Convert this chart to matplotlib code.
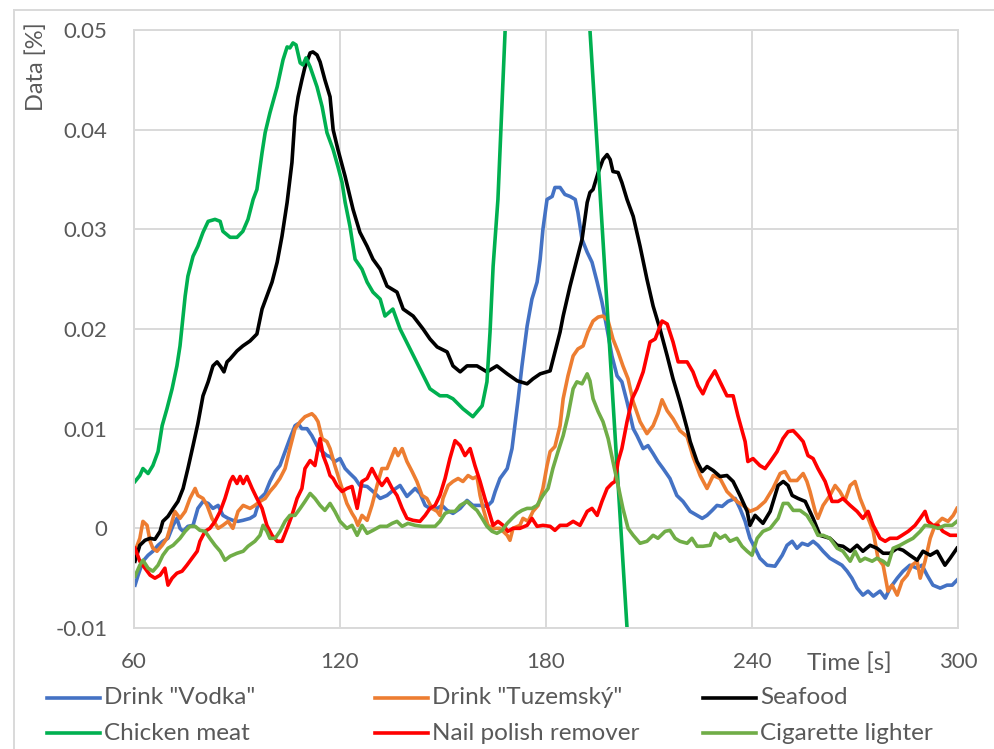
import matplotlib.pyplot as plt
from matplotlib.lines import Line2D

plt.rcParams['font.family'] = ['Lato', 'DejaVu Sans']

# values: time [s] and data [%]
vodka_t = [60.3, 61.2, 62.6, 64.1, 65.5, 67.0, 68.4, 69.9, 71.4, 72.5, 73.4, 74.3, 75.7, 77.2, 78.6, 80.1,
           81.6, 83.0, 84.5, 85.9, 87.4, 88.8, 90.3, 91.7, 93.8, 95.2, 96.7, 98.2, 99.6, 101.1, 102.5,
           104.0, 105.4, 106.9, 107.8, 108.9, 110.4, 111.8, 113.3, 114.8, 116.2, 117.1, 118.5, 120.0,
           121.5, 122.9, 124.4, 125.8, 127.9, 129.6, 131.7, 133.7, 135.4, 137.5, 139.5, 141.9, 143.3,
           144.8, 146.2, 148.3, 149.7, 151.2, 152.9, 155.0, 157.0, 158.7, 160.8, 162.8, 164.3, 165.2,
           166.6, 168.7, 170.1, 171.9, 173.0, 174.5, 175.9, 177.4, 178.3, 179.1, 180.3, 181.8, 182.6,
           184.1, 185.5, 187.0, 188.5, 189.3, 190.5, 192.0, 193.4, 194.9, 196.3, 197.8, 199.2, 200.7,
           202.1, 203.6, 205.4, 206.5, 208.3, 209.7, 211.2, 212.6, 214.1, 216.1, 218.1, 219.9, 222.0,
           224.0, 225.5, 226.9, 228.4, 229.8, 231.3, 233.0, 235.1, 236.5, 238.0, 239.4, 240.9, 242.3,
           244.4, 246.7, 248.8, 250.2, 251.7, 253.1, 254.6, 256.3, 257.8, 259.2, 260.7, 262.7, 264.2,
           266.2, 267.7, 269.1, 270.6, 272.3, 273.8, 275.3, 277.3, 278.8, 280.2, 282.3, 284.0, 286.0,
           288.1, 289.5, 291.0, 292.7, 294.8, 296.8, 298.3, 299.7]
vodka = [-0.0057, -0.0047, -0.0033, -0.0027, -0.0023, -0.0017, -0.0013, -0.0010, 0.0003, 0.0010, 0.0000,
         -0.0003, 0.0002, 0.0003, 0.0020, 0.0027, 0.0025, 0.0020, 0.0023, 0.0013, 0.0010, 0.0008, 0.0007,
         0.0008, 0.0010, 0.0013, 0.0030, 0.0035, 0.0047, 0.0057, 0.0063, 0.0077, 0.0090, 0.0103, 0.0105,
         0.0100, 0.0100, 0.0093, 0.0083, 0.0077, 0.0073, 0.0072, 0.0067, 0.0070, 0.0060, 0.0055, 0.0050,
         0.0043, 0.0042, 0.0037, 0.0030, 0.0033, 0.0038, 0.0043, 0.0032, 0.0040, 0.0035, 0.0023, 0.0020,
         0.0020, 0.0023, 0.0018, 0.0015, 0.0020, 0.0028, 0.0023, 0.0023, 0.0022, 0.0027, 0.0037, 0.0050,
         0.0060, 0.0080, 0.0130, 0.0163, 0.0203, 0.0230, 0.0247, 0.0270, 0.0300, 0.0330, 0.0333, 0.0342,
         0.0342, 0.0335, 0.0333, 0.0330, 0.0317, 0.0290, 0.0277, 0.0267, 0.0247, 0.0227, 0.0200, 0.0173,
         0.0153, 0.0147, 0.0127, 0.0100, 0.0093, 0.0080, 0.0083, 0.0075, 0.0067, 0.0060, 0.0050, 0.0033,
         0.0027, 0.0017, 0.0013, 0.0010, 0.0013, 0.0018, 0.0023, 0.0022, 0.0027, 0.0030, 0.0020, 0.0007,
         -0.0010, -0.0020, -0.0030, -0.0037, -0.0038, -0.0027, -0.0017, -0.0013, -0.0020, -0.0015, -0.0017,
         -0.0013, -0.0017, -0.0023, -0.0030, -0.0033, -0.0037, -0.0043, -0.0050, -0.0060, -0.0067, -0.0063,
         -0.0068, -0.0063, -0.0070, -0.0060, -0.0050, -0.0043, -0.0037, -0.0040, -0.0037, -0.0047, -0.0057,
         -0.0060, -0.0057, -0.0057, -0.0052]

tuzem_t = [60.3, 61.7, 62.6, 63.8, 64.7, 65.5, 66.7, 68.2, 69.6, 71.1, 71.9, 73.4, 74.9, 76.3, 77.8, 78.6,
           80.1, 81.3, 82.7, 84.5, 85.9, 87.4, 88.8, 90.3, 91.8, 93.8, 95.2, 96.7, 98.2, 99.6, 101.1,
           102.5, 104.0, 105.4, 106.9, 108.4, 109.8, 111.8, 112.7, 113.6, 114.8, 116.2, 117.1, 118.5,
           119.4, 120.6, 122.0, 123.5, 124.4, 125.2, 126.4, 127.9, 129.3, 130.8, 132.2, 133.7, 135.2,
           136.0, 136.9, 138.1, 139.5, 141.0, 142.4, 143.9, 145.3, 146.8, 148.3, 149.1, 150.0, 151.5,
           152.9, 154.4, 155.8, 157.3, 158.7, 159.9, 160.8, 161.7, 163.1, 164.6, 166.6, 168.7, 169.5,
           170.4, 172.4, 173.3, 174.8, 176.2, 177.7, 179.1, 180.3, 181.2, 182.6, 184.1, 185.0, 186.4,
           187.9, 189.3, 190.8, 192.2, 193.7, 195.2, 196.6, 198.1, 199.5, 201.0, 202.4, 203.9, 205.4,
           207.4, 209.4, 211.2, 212.6, 213.8, 215.3, 217.0, 219.0, 221.1, 222.8, 224.9, 226.9, 228.7,
           230.7, 232.7, 235.6, 237.4, 239.4, 241.5, 243.8, 246.1, 248.2, 249.6, 251.1, 253.1, 254.9,
           256.0, 256.9, 258.4, 259.2, 260.7, 262.7, 264.2, 265.6, 267.1, 268.6, 270.0, 271.5, 273.5,
           275.3, 276.7, 278.2, 279.6, 280.8, 282.3, 283.7, 285.2, 286.6, 288.1, 289.0, 290.4, 291.9,
           293.3, 295.4, 297.1, 298.6, 299.7]
tuzem = [-0.0023, -0.0010, 0.0007, 0.0003, -0.0013, -0.0020, -0.0023, -0.0017, -0.0010, 0.0007, 0.0017,
         0.0010, 0.0017, 0.0030, 0.0040, 0.0033, 0.0030, 0.0023, 0.0010, 0.0000, 0.0003, 0.0007, 0.0000,
         0.0017, 0.0023, 0.0020, 0.0023, 0.0027, 0.0030, 0.0037, 0.0043, 0.0050, 0.0060, 0.0080, 0.0100,
         0.0107, 0.0112, 0.0115, 0.0112, 0.0107, 0.0090, 0.0087, 0.0080, 0.0063, 0.0053, 0.0040, 0.0025,
         0.0015, 0.0010, 0.0003, 0.0013, 0.0008, 0.0023, 0.0043, 0.0060, 0.0060, 0.0073, 0.0080, 0.0073,
         0.0080, 0.0067, 0.0057, 0.0047, 0.0033, 0.0030, 0.0020, 0.0017, 0.0013, 0.0030, 0.0043, 0.0047,
         0.0050, 0.0047, 0.0053, 0.0050, 0.0052, 0.0033, 0.0020, 0.0003, 0.0000, 0.0000, -0.0007, -0.0012,
         0.0000, 0.0003, 0.0010, 0.0007, 0.0017, 0.0023, 0.0040, 0.0063, 0.0077, 0.0082, 0.0103, 0.0130,
         0.0153, 0.0173, 0.0180, 0.0183, 0.0197, 0.0208, 0.0212, 0.0213, 0.0208, 0.0190, 0.0177, 0.0163,
         0.0150, 0.0127, 0.0107, 0.0095, 0.0103, 0.0115, 0.0129, 0.0118, 0.0110, 0.0098, 0.0092, 0.0072,
         0.0053, 0.0040, 0.0053, 0.0050, 0.0037, 0.0027, 0.0023, 0.0017, 0.0020, 0.0027, 0.0040, 0.0055,
         0.0057, 0.0048, 0.0048, 0.0055, 0.0047, 0.0037, 0.0017, 0.0010, 0.0023, 0.0033, 0.0043, 0.0037,
         0.0028, 0.0043, 0.0047, 0.0030, 0.0013, -0.0003, -0.0030, -0.0037, -0.0063, -0.0057, -0.0067,
         -0.0053, -0.0047, -0.0037, -0.0033, -0.0050, -0.0033, -0.0010, 0.0003, 0.0010, 0.0007, 0.0013,
         0.0020]

seafood_t = [60.3, 61.7, 63.2, 64.7, 66.1, 67.6, 68.4, 69.9, 71.4, 72.8, 74.3, 75.7, 77.2, 78.6, 80.1,
             81.6, 83.0, 84.2, 85.3, 86.2, 87.1, 88.0, 90.0, 91.7, 93.8, 95.8, 97.3, 98.7, 100.2, 101.7,
             103.1, 104.6, 106.0, 106.9, 107.8, 108.9, 109.8, 111.3, 112.1, 113.3, 114.2, 115.6, 117.1,
             118.0, 119.4, 121.5, 122.9, 123.8, 125.8, 127.9, 129.6, 131.7, 133.7, 136.6, 138.4, 141.3,
             144.2, 146.2, 148.3, 151.2, 152.9, 155.0, 157.0, 159.9, 162.8, 165.7, 168.7, 171.6, 174.5,
             176.2, 178.3, 181.2, 182.6, 184.1, 185.0, 187.0, 189.0, 190.5, 192.0, 192.8, 193.7, 195.2,
             196.6, 197.8, 198.7, 199.5, 201.0, 202.1, 203.6, 205.4, 207.4, 209.4, 211.2, 213.2, 215.3,
             217.0, 219.0, 221.1, 222.0, 224.0, 225.5, 226.9, 228.7, 230.7, 232.7, 234.5, 236.5, 238.6,
             239.4, 240.9, 243.2, 245.3, 247.6, 249.1, 250.5, 251.7, 253.4, 255.5, 257.8, 259.8, 262.7,
             264.8, 266.5, 268.6, 270.6, 272.3, 274.4, 276.4, 278.2, 280.2, 282.3, 284.0, 286.0, 288.1,
             289.8, 291.9, 293.9, 296.2, 297.7, 299.7]
seafood = [-0.0033, -0.0017, -0.0012, -0.0010, -0.0011, -0.0003, 0.0007, 0.0012, 0.0020, 0.0027, 0.0040,
           0.0060, 0.0083, 0.0105, 0.0133, 0.0147, 0.0163, 0.0167, 0.0162, 0.0157, 0.0167, 0.0170, 0.0178,
           0.0183, 0.0188, 0.0195, 0.0220, 0.0233, 0.0247, 0.0267, 0.0293, 0.0327, 0.0367, 0.0413, 0.0433,
           0.0450, 0.0463, 0.0477, 0.0478, 0.0475, 0.0468, 0.0450, 0.0433, 0.0400, 0.0380, 0.0353, 0.0333,
           0.0320, 0.0297, 0.0283, 0.0270, 0.0260, 0.0243, 0.0237, 0.0220, 0.0213, 0.0200, 0.0190, 0.0182,
           0.0177, 0.0163, 0.0157, 0.0163, 0.0163, 0.0157, 0.0163, 0.0155, 0.0148, 0.0145, 0.0150, 0.0155,
           0.0158, 0.0177, 0.0197, 0.0213, 0.0243, 0.0270, 0.0290, 0.0327, 0.0337, 0.0340, 0.0357, 0.0370,
           0.0375, 0.0370, 0.0358, 0.0357, 0.0347, 0.0330, 0.0313, 0.0283, 0.0250, 0.0223, 0.0200, 0.0173,
           0.0150, 0.0127, 0.0100, 0.0087, 0.0067, 0.0057, 0.0062, 0.0058, 0.0052, 0.0053, 0.0047, 0.0033,
           0.0017, 0.0003, 0.0013, 0.0005, 0.0017, 0.0043, 0.0047, 0.0043, 0.0033, 0.0030, 0.0027, 0.0010,
           -0.0007, -0.0010, -0.0017, -0.0018, -0.0023, -0.0017, -0.0023, -0.0017, -0.0020, -0.0025, -0.0025,
           -0.0020, -0.0022, -0.0027, -0.0032, -0.0023, -0.0027, -0.0023, -0.0037, -0.0030, -0.0020]

chicken_t = [60.3, 61.7, 62.6, 64.1, 65.5, 67.0, 68.2, 69.6, 71.1, 72.5, 73.4, 74.9, 75.7, 77.2, 78.6,
             80.1, 81.6, 83.6, 85.1, 85.9, 88.0, 90.0, 91.7, 93.2, 94.7, 95.8, 97.3, 98.2, 99.6, 101.7,
             103.4, 104.6, 105.4, 106.3, 107.2, 108.4, 109.2, 110.1, 111.3, 113.3, 114.8, 116.2, 118.0,
             119.4, 120.6, 121.5, 122.9, 124.4, 126.4, 127.9, 129.6, 131.7, 133.1, 135.4, 137.5, 140.4,
             143.3, 146.2, 149.1, 151.2, 152.9, 155.8, 158.7, 161.4, 162.8, 163.7, 164.6, 166.0, 168.1,
             179.3, 192.8, 203.6, 208.0]
chicken = [0.0047, 0.0053, 0.0060, 0.0055, 0.0063, 0.0077, 0.0103, 0.0120, 0.0140, 0.0163, 0.0183, 0.0233,
           0.0253, 0.0273, 0.0283, 0.0297, 0.0308, 0.0310, 0.0308, 0.0298, 0.0292, 0.0292, 0.0298, 0.0310,
           0.0330, 0.0340, 0.0377, 0.0397, 0.0417, 0.0443, 0.0470, 0.0483, 0.0482, 0.0487, 0.0485, 0.0467,
           0.0465, 0.0472, 0.0463, 0.0443, 0.0423, 0.0397, 0.0380, 0.0363, 0.0347, 0.0327, 0.0303, 0.0270,
           0.0260, 0.0247, 0.0237, 0.0230, 0.0213, 0.0220, 0.0200, 0.0180, 0.0160, 0.0140, 0.0133, 0.0133,
           0.0130, 0.0120, 0.0112, 0.0123, 0.0147, 0.0197, 0.0263, 0.0330, 0.0500, 0.1260, 0.0500, -0.0100,
           -0.0350]

nail_t = [60.3, 61.7, 63.2, 64.7, 66.1, 67.6, 69.0, 69.9, 71.1, 72.5, 74.0, 75.4, 76.9, 78.4, 79.2, 80.7,
          82.1, 83.6, 85.1, 86.5, 88.0, 88.8, 90.0, 90.9, 91.8, 92.9, 94.4, 95.8, 97.3, 98.7, 100.2, 101.7,
          103.1, 104.6, 106.0, 107.5, 108.9, 109.8, 111.3, 112.7, 113.6, 114.2, 115.1, 116.2, 117.1, 118.0,
          119.1, 120.6, 122.0, 123.5, 125.0, 126.4, 127.9, 129.3, 130.8, 132.2, 133.7, 135.2, 136.6, 138.1,
          139.5, 141.3, 143.3, 144.8, 146.2, 147.7, 149.1, 150.6, 152.0, 153.5, 155.0, 156.4, 157.9, 159.3,
          160.8, 162.2, 163.7, 164.6, 166.0, 167.5, 168.9, 170.4, 172.4, 174.5, 175.9, 177.4, 179.1, 181.2,
          182.6, 184.1, 186.1, 187.9, 189.9, 192.0, 193.4, 194.9, 196.3, 197.8, 199.2, 200.1, 201.0, 202.1,
          203.6, 205.1, 206.5, 208.3, 210.3, 211.8, 213.8, 215.3, 217.0, 218.5, 221.1, 222.8, 224.3, 225.7,
          227.2, 229.2, 230.7, 232.7, 234.5, 235.9, 238.0, 238.8, 240.3, 242.3, 243.8, 245.3, 247.3, 249.0,
          250.5, 252.0, 253.4, 254.9, 256.3, 257.8, 259.2, 261.3, 263.3, 265.1, 266.5, 268.6, 270.6, 272.3,
          273.8, 275.3, 277.3, 278.8, 280.2, 282.3, 283.7, 285.5, 287.5, 289.0, 290.4, 291.3, 292.7, 294.2,
          295.6, 297.7, 299.7]
nail = [-0.0020, -0.0033, -0.0040, -0.0047, -0.0050, -0.0047, -0.0040, -0.0057, -0.0050, -0.0045, -0.0043,
        -0.0037, -0.0030, -0.0023, -0.0013, -0.0003, 0.0000, 0.0007, 0.0017, 0.0030, 0.0047, 0.0052, 0.0045,
        0.0052, 0.0045, 0.0052, 0.0040, 0.0030, 0.0020, 0.0003, -0.0007, -0.0013, -0.0013, 0.0000, 0.0013,
        0.0030, 0.0040, 0.0060, 0.0068, 0.0063, 0.0080, 0.0090, 0.0073, 0.0063, 0.0053, 0.0050, 0.0043,
        0.0037, 0.0040, 0.0042, 0.0020, 0.0047, 0.0050, 0.0060, 0.0050, 0.0043, 0.0050, 0.0040, 0.0033,
        0.0020, 0.0010, 0.0008, 0.0007, 0.0013, 0.0020, 0.0023, 0.0033, 0.0050, 0.0070, 0.0088, 0.0083,
        0.0073, 0.0080, 0.0063, 0.0047, 0.0030, 0.0013, 0.0003, 0.0007, 0.0003, -0.0003, 0.0000, 0.0000,
        0.0003, 0.0010, 0.0002, 0.0003, 0.0002, -0.0002, 0.0003, 0.0003, 0.0007, 0.0003, 0.0017, 0.0020,
        0.0013, 0.0027, 0.0040, 0.0045, 0.0047, 0.0067, 0.0080, 0.0107, 0.0130, 0.0140, 0.0157, 0.0187,
        0.0190, 0.0208, 0.0205, 0.0187, 0.0167, 0.0167, 0.0157, 0.0143, 0.0135, 0.0147, 0.0158, 0.0147,
        0.0133, 0.0133, 0.0113, 0.0087, 0.0067, 0.0070, 0.0063, 0.0060, 0.0067, 0.0077, 0.0090, 0.0097,
        0.0098, 0.0093, 0.0087, 0.0073, 0.0070, 0.0060, 0.0047, 0.0027, 0.0027, 0.0030, 0.0023, 0.0017,
        0.0010, 0.0017, 0.0003, -0.0010, -0.0013, -0.0010, -0.0010, -0.0007, -0.0003, 0.0003, 0.0010,
        0.0017, 0.0007, 0.0003, 0.0003, -0.0003, -0.0007, -0.0007]

lighter_t = [60.3, 61.7, 62.6, 64.1, 65.5, 67.0, 68.4, 69.9, 71.4, 73.4, 74.9, 76.3, 77.8, 79.2, 80.7, 82.1,
             83.6, 85.1, 86.5, 88.0, 90.0, 91.8, 93.2, 95.2, 96.7, 97.6, 98.7, 99.6, 101.1, 102.5, 104.0,
             105.4, 106.9, 108.4, 109.8, 111.3, 112.7, 114.2, 115.6, 117.1, 118.5, 120.0, 122.0, 123.5,
             125.0, 126.4, 127.9, 129.6, 131.7, 133.7, 135.2, 136.6, 138.1, 139.8, 141.9, 143.9, 145.6,
             147.7, 149.1, 150.6, 152.0, 153.5, 155.0, 157.0, 158.5, 159.9, 161.4, 162.8, 164.3, 165.7,
             167.2, 168.7, 170.1, 171.6, 173.0, 174.5, 175.9, 177.4, 179.1, 180.6, 182.0, 183.5, 185.0,
             186.4, 187.9, 189.0, 190.5, 192.0, 192.8, 193.7, 195.2, 196.6, 198.1, 199.5, 201.0, 202.4,
             203.9, 205.4, 207.4, 209.4, 211.2, 212.6, 214.7, 216.1, 217.6, 219.0, 221.1, 222.5, 224.0,
             225.7, 227.8, 229.2, 230.7, 232.2, 233.6, 235.6, 237.1, 238.6, 240.0, 241.5, 243.2, 245.3,
             247.6, 249.1, 250.5, 252.0, 254.0, 256.0, 257.8, 259.2, 260.7, 262.7, 264.8, 266.5, 268.6,
             270.0, 271.5, 272.9, 275.0, 276.4, 278.2, 279.6, 281.1, 283.1, 285.2, 286.9, 289.0, 290.4,
             292.5, 294.2, 296.2, 298.3, 299.7]
lighter = [-0.0048, -0.0037, -0.0032, -0.0040, -0.0043, -0.0037, -0.0027, -0.0020, -0.0017, -0.0010, -0.0003,
           0.0002, 0.0002, -0.0002, -0.0003, -0.0010, -0.0017, -0.0023, -0.0032, -0.0028, -0.0025, -0.0023,
           -0.0018, -0.0013, -0.0007, 0.0003, -0.0003, -0.0010, -0.0010, -0.0003, 0.0007, 0.0013, 0.0013,
           0.0020, 0.0027, 0.0035, 0.0030, 0.0023, 0.0018, 0.0025, 0.0017, 0.0007, 0.0000, 0.0003, -0.0007,
           0.0003, -0.0005, -0.0002, 0.0002, 0.0002, 0.0005, 0.0007, 0.0002, 0.0005, 0.0003, 0.0002, 0.0002,
           0.0002, 0.0007, 0.0015, 0.0017, 0.0017, 0.0023, 0.0027, 0.0022, 0.0018, 0.0010, 0.0002, -0.0003,
           -0.0005, -0.0002, 0.0005, 0.0010, 0.0015, 0.0018, 0.0020, 0.0020, 0.0023, 0.0033, 0.0040, 0.0060,
           0.0077, 0.0093, 0.0113, 0.0140, 0.0147, 0.0145, 0.0155, 0.0148, 0.0130, 0.0117, 0.0107, 0.0090,
           0.0067, 0.0043, 0.0020, 0.0000, -0.0007, -0.0015, -0.0013, -0.0007, -0.0010, -0.0003, -0.0002,
           -0.0010, -0.0013, -0.0015, -0.0010, -0.0018, -0.0018, -0.0017, -0.0005, -0.0010, -0.0007, -0.0013,
           -0.0010, -0.0018, -0.0023, -0.0027, -0.0010, -0.0003, 0.0000, 0.0010, 0.0025, 0.0025, 0.0018,
           0.0018, 0.0013, 0.0003, -0.0007, -0.0007, -0.0010, -0.0020, -0.0023, -0.0033, -0.0023, -0.0033,
           -0.0030, -0.0033, -0.0030, -0.0033, -0.0037, -0.0020, -0.0017, -0.0013, -0.0010, -0.0003, 0.0003,
           0.0002, 0.0000, 0.0003, 0.0003, 0.0007]

labels = ['Drink "Vodka"', 'Drink "Tuzemský"', 'Seafood',
          'Chicken meat', 'Nail polish remover', 'Cigarette lighter']
colors = ['#4472C4', '#ED7D31', '#000000', '#00B050', '#FF0000', '#70AD47']
series = [(vodka_t, vodka), (tuzem_t, tuzem), (seafood_t, seafood),
          (chicken_t, chicken), (nail_t, nail), (lighter_t, lighter)]

xticks = [60, 120, 180, 240, 300]
yticks = [-0.01, 0, 0.01, 0.02, 0.03, 0.04, 0.05]
ytick_labels = ['-0.01', '0', '0.01', '0.02', '0.03', '0.04', '0.05']

grey = '#D9D9D9'
txt = '#595959'

fig = plt.figure(figsize=(9.95, 7.49), dpi=100)
W, H = 995, 749
ax = fig.add_axes([134 / W, 1 - 628 / H, (958 - 134) / W, (628 - 30) / H])

for (t, v), c in zip(series, colors):
    ax.plot(t, v, color=c, lw=2.6, solid_joinstyle='round')

ax.set_xlim(60, 300)
ax.set_ylim(-0.01, 0.05)
ax.set_xticks(xticks)
ax.set_yticks(yticks)
ax.set_yticklabels(ytick_labels)
ax.tick_params(length=0, labelsize=16, colors=txt)
ax.tick_params(axis='y', pad=19)
ax.tick_params(axis='x', pad=17)
ax.grid(True, color=grey, lw=1.4)
ax.set_axisbelow(True)
for s in ax.spines.values():
    s.set_color(grey)
    s.set_linewidth(1.4)

fig.text(36 / W, 1 - 67 / H, 'Data [%]', rotation=90, ha='center', va='center',
         fontsize=17, color=txt)
fig.text(849 / W, 1 - 663 / H, 'Time [s]', ha='center', va='center', fontsize=17.5, color=txt)

# outer chart frame (left and top edges visible)
fig.add_artist(Line2D([14 / W, 14 / W], [0, 1 - 10 / H], color=grey, lw=1.4))
fig.add_artist(Line2D([14 / W, 1], [1 - 10 / H, 1 - 10 / H], color=grey, lw=1.4))

# legend, 3 columns x 2 rows under the plot
col_x = [47, 375, 703]
row_y = [698, 733]
for i, (lab, c) in enumerate(zip(labels, colors)):
    x0 = col_x[i % 3]
    y0 = row_y[i // 3]
    fig.add_artist(Line2D([x0 / W, (x0 + 53) / W], [1 - y0 / H, 1 - y0 / H], color=c, lw=2.6))
    fig.text((x0 + 57) / W, 1 - y0 / H, lab, ha='left', va='center', fontsize=17.5, color=txt)

fig.savefig('out.png', dpi=100)
